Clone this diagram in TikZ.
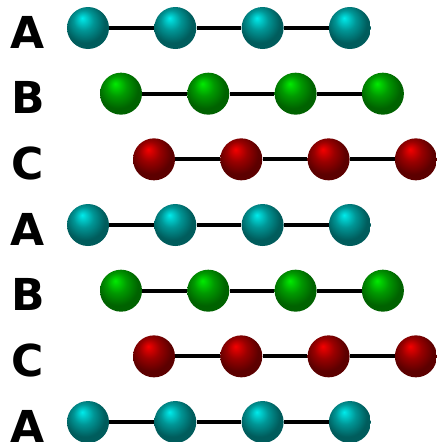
\documentclass[tikz,border=0pt]{standalone}
\usepackage{fontspec}
\setsansfont{DejaVu Sans}

% ball colours
\definecolor{tealhi}{RGB}{0,235,235}
\definecolor{teallo}{RGB}{0,92,92}
\definecolor{greenhi}{RGB}{0,235,0}
\definecolor{greenlo}{RGB}{0,98,0}
\definecolor{redhi}{RGB}{245,0,0}
\definecolor{redlo}{RGB}{92,0,0}

\pgfdeclareradialshading{tealball}{\pgfpoint{-7bp}{12bp}}{color(0bp)=(tealhi); color(12bp)=(teallo!60!tealhi); color(24bp)=(teallo); color(50bp)=(teallo)}
\pgfdeclareradialshading{greenball}{\pgfpoint{-7bp}{12bp}}{color(0bp)=(greenhi); color(12bp)=(greenlo!60!greenhi); color(24bp)=(greenlo); color(50bp)=(greenlo)}
\pgfdeclareradialshading{redball}{\pgfpoint{-7bp}{12bp}}{color(0bp)=(redhi); color(12bp)=(redlo!60!redhi); color(24bp)=(redlo); color(50bp)=(redlo)}

\begin{document}
\begin{tikzpicture}[x=1pt,y=-1pt,
    ball/.style={circle,minimum size=42pt,inner sep=0pt},
    bond/.style={line width=4pt,black},
    letter/.style={anchor=base,font=\fontsize{44}{44}\selectfont\sffamily\bfseries}]
    \useasboundingbox (0,0) rectangle (437,442);

    % Stacking layers: A B C A B C A
    \foreach \lab/\sh/\off [count=\i] in {A/tealball/0,B/greenball/1,C/redball/2,A/tealball/0,B/greenball/1,C/redball/2,A/tealball/0} {
        \pgfmathsetmacro{\yy}{28+(\i-1)*65.67}
        \node[letter] (lab\i) at (28,\yy+20) {\lab};

        % Atoms
        \foreach \k in {1,...,4}
            \node[ball,shading=\sh] (r\i-\k) at ({88+\off*33+(\k-1)*87.3},\yy) {};

        % Bonds
        \foreach \k [evaluate=\k as \j using int(\k+1)] in {1,2,3}
            \draw[bond] (r\i-\k) -- (r\i-\j);
    }
\end{tikzpicture}
\end{document}
